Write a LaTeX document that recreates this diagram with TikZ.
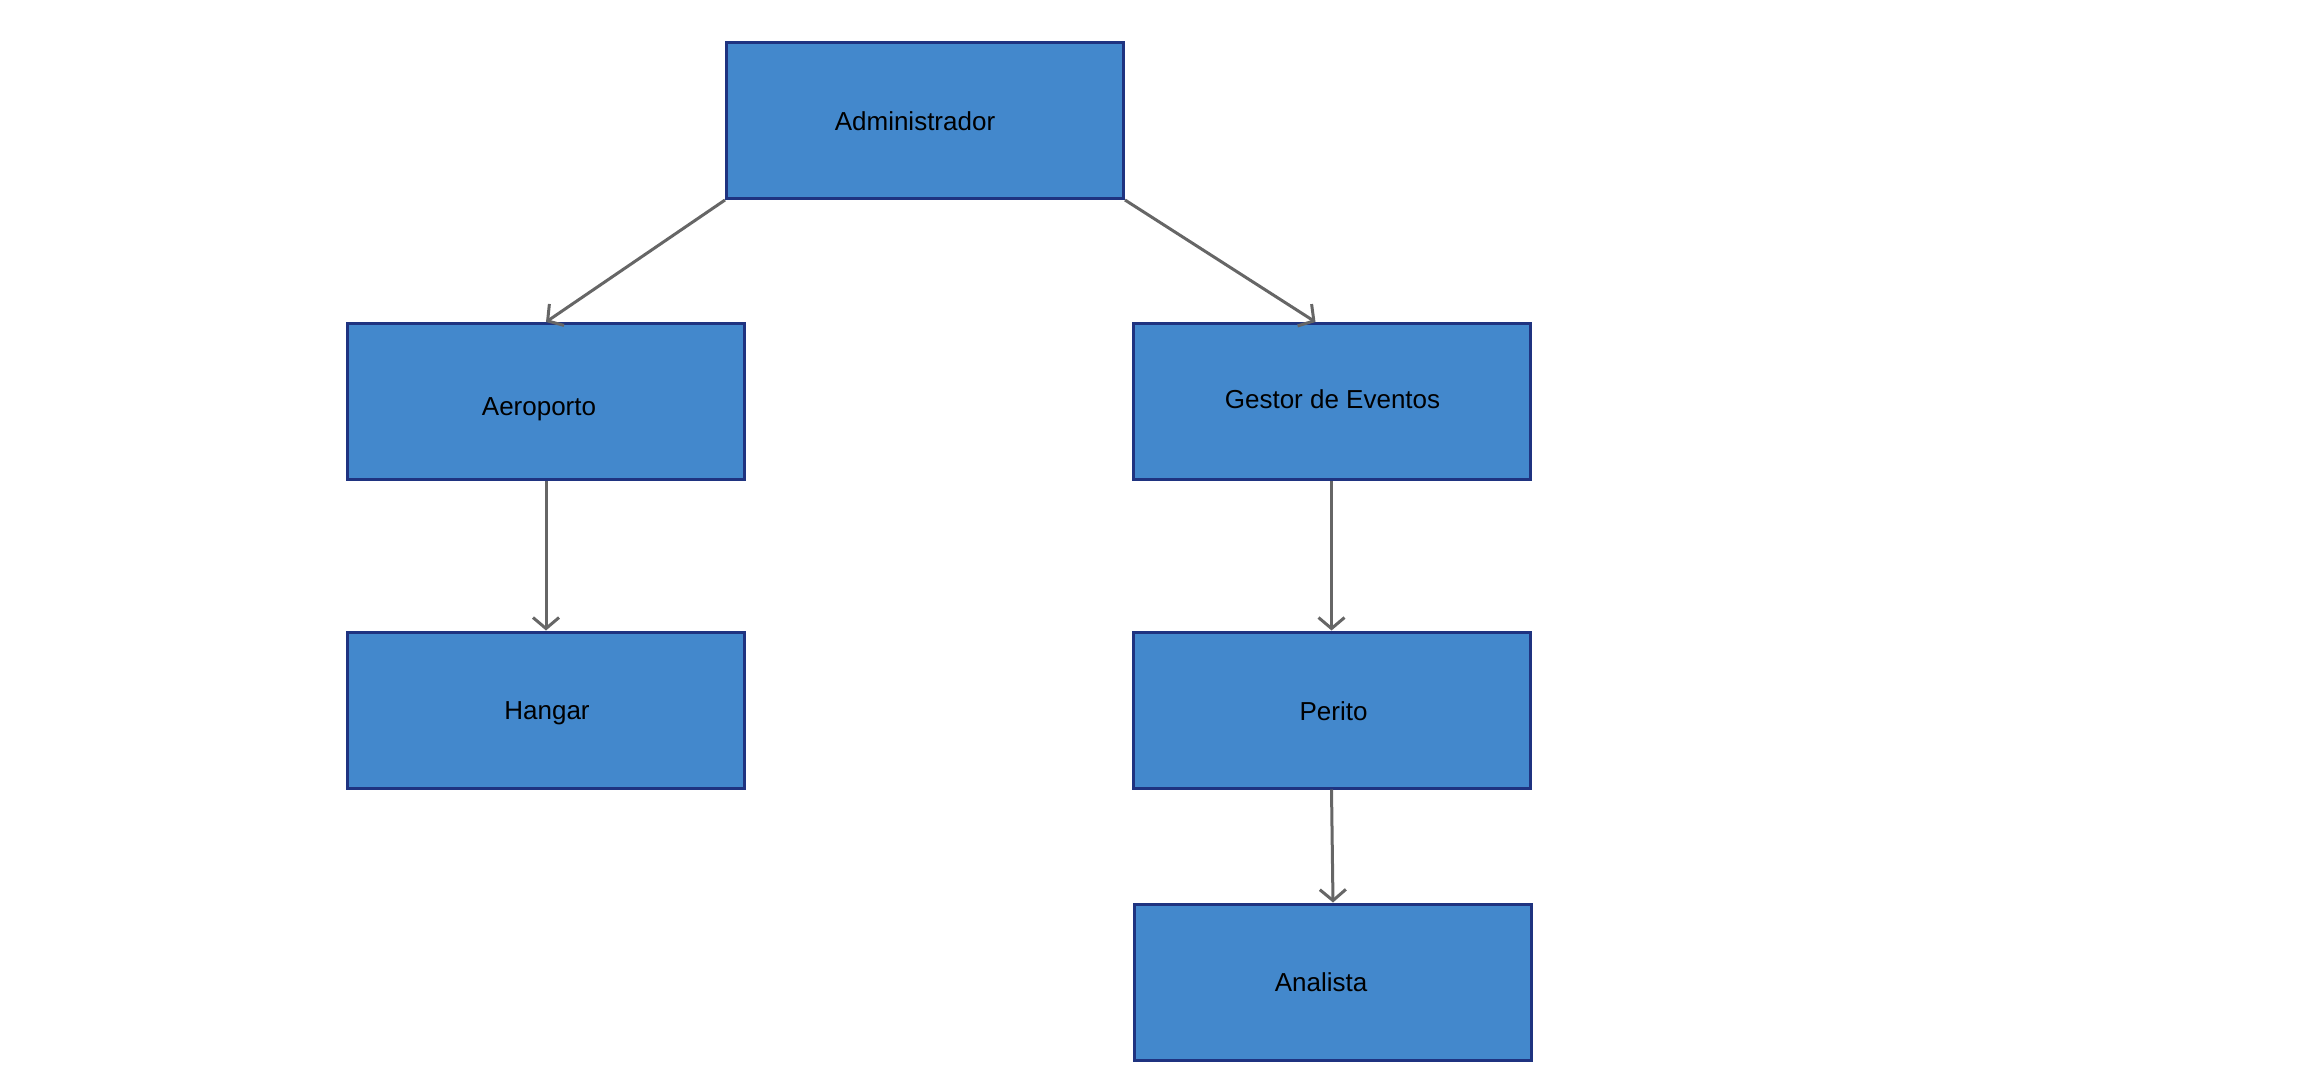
\documentclass[tikz,border=0pt]{standalone}
\usepackage{fontspec}
\setmainfont{Liberation Sans}
\usetikzlibrary{arrows.meta,calc}
\definecolor{boxfill}{RGB}{67,136,204}
\definecolor{boxline}{RGB}{31,51,128}
\definecolor{arrowgray}{RGB}{102,102,102}
\tikzset{
  rolebox/.style={draw=boxline, fill=boxfill, line width=3pt, minimum width=397pt, minimum height=156pt, inner sep=0pt},
  lbl/.style={font=\fontsize{26}{31}\selectfont, text=black, inner sep=0pt},
  conn/.style={draw=arrowgray, line width=3pt, -{Straight Barb[length=11pt,width=26pt,line width=3pt]}}
}
\begin{document}
\begin{tikzpicture}[x=1pt,y=1pt]
\useasboundingbox (0,0) rectangle (2316,-1072);
\node[rolebox, label={[lbl,xshift=-10pt,yshift=-1pt]center:Administrador}] (admin) at (925,-120.5) {};
\node[rolebox, label={[lbl,xshift=-7pt,yshift=-8pt]center:Aeroporto}] (aero) at (546,-401.5) {};
\node[rolebox, label={[lbl,xshift=1pt,yshift=2pt]center:Gestor de Eventos}] (gestor) at (1331.5,-401.5) {};
\node[rolebox, label={[lbl,xshift=1pt,yshift=-3pt]center:Hangar}] (hangar) at (546,-710) {};
\node[rolebox, label={[lbl,xshift=2pt,yshift=-1pt]center:Perito}] (perito) at (1331.5,-710) {};
\node[rolebox, label={[lbl,xshift=-12pt,yshift=0pt]center:Analista}] (analista) at (1333,-982) {};
\coordinate (gin) at ($(gestor.north)+(-16,0)$);
\draw[conn] (admin.south west) -- (aero.north);
\draw[conn] (admin.south east) -- (gin);
\draw[conn] (aero.south) -- (hangar.north);
\draw[conn] (gestor.south) -- (perito.north);
\draw[conn] (perito.south) -- (analista.north);
\end{tikzpicture}
\end{document}
